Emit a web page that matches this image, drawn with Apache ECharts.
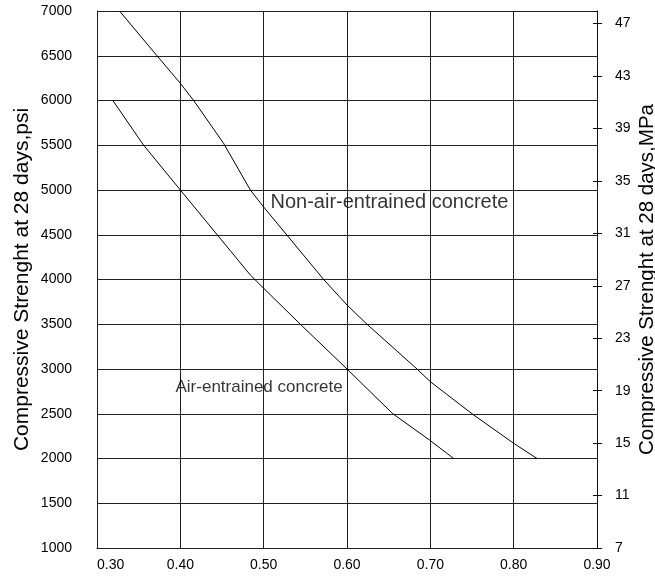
<!DOCTYPE html>
<html>
<head>
<meta charset="utf-8">
<script src="https://cdn.jsdelivr.net/npm/echarts@6/dist/echarts.min.js"></script>
<style>
html,body{margin:0;padding:0;background:#fff;overflow:hidden;width:655px;height:579px;}
#chart{display:block;width:655px;height:579px;}
</style>
</head>
<body>
<div id="chart"></div>
<script>
// Water-cement ratio vs. compressive strength (psi)
var nonAirWC  = [0.327, 0.372, 0.400, 0.416, 0.452, 0.484, 0.500, 0.572, 0.600, 0.624, 0.684, 0.700, 0.750, 0.800, 0.828];
var nonAirPsi = [7000, 6500, 6192, 6000, 5520, 5000, 4810, 4000, 3715, 3500, 3000, 2858, 2500, 2170, 2000];
var airWC     = [0.319, 0.356, 0.400, 0.484, 0.500, 0.544, 0.600, 0.655, 0.700, 0.728];
var airPsi    = [6000, 5500, 5000, 4050, 3902, 3500, 3000, 2500, 2200, 2000];

var xTicks = [0.30, 0.40, 0.50, 0.60, 0.70, 0.80, 0.90];
var psiTicks = [1000, 1500, 2000, 2500, 3000, 3500, 4000, 4500, 5000, 5500, 6000, 6500, 7000];
var mpaTicks = [7, 11, 15, 19, 23, 27, 31, 35, 39, 43, 47];

var labelNames = ['Non-air-entrained concrete', 'Air-entrained concrete'];
var labelWC    = [0.5076, 0.3936];
var labelPsi   = [4855, 2800];
var labelSizes = [20, 17];

var PSI_PER_MPA = 145.04;
var FONT = '"Liberation Sans", Arial, sans-serif';

function pairs(xs, ys){ return xs.map(function(x,i){ return [x, ys[i]]; }); }

var psiMin = psiTicks[0], psiMax = psiTicks[psiTicks.length-1];
var mpaMin = mpaTicks[0];
var mpaMax = mpaMin + (psiMax - psiMin) / PSI_PER_MPA * 0.99;

var chart = echarts.init(document.getElementById('chart'), null, {renderer:'canvas', width:655, height:579});
chart.setOption({
  animation:false,
  backgroundColor:'#fff',
  textStyle:{fontFamily:FONT},
  grid:{left:97, right:58, top:11, bottom:31, containLabel:false, outerBoundsMode:'none'},
  xAxis:{
    type:'value', min:xTicks[0], max:xTicks[xTicks.length-1], interval:0.1,
    axisLine:{show:true, lineStyle:{color:'#222', width:1}},
    axisTick:{show:false},
    splitLine:{show:true, lineStyle:{color:'#222', width:1}},
    axisLabel:{color:'#000', fontSize:14, fontFamily:FONT, margin:10, alignMinLabel:'left',
      formatter:function(v){ return v.toFixed(2); }}
  },
  yAxis:[{
    type:'value', position:'left', min:psiMin, max:psiMax, interval:500,
    name:'Compressive Strenght at 28 days,psi', nameLocation:'middle', nameRotate:90, nameGap:64,
    nameMoveOverlap:false,
    nameTextStyle:{fontSize:21, color:'#000', fontFamily:FONT},
    axisLine:{show:true, lineStyle:{color:'#222', width:1}},
    axisTick:{show:false},
    splitLine:{show:true, lineStyle:{color:'#222', width:1}},
    axisLabel:{color:'#000', fontSize:14, fontFamily:FONT, margin:25,
      formatter:function(v){ return String(v); }}
  },{
    type:'value', position:'right', min:mpaMin, max:mpaMax, interval:4,
    name:'Compressive Strenght at 28 days,MPa', nameLocation:'middle', nameRotate:90, nameGap:40,
    nameMoveOverlap:false,
    nameTextStyle:{fontSize:20.5, color:'#000', fontFamily:FONT},
    axisLine:{show:true, lineStyle:{color:'#111', width:1}},
    axisTick:{show:true, inside:false, length:5, lineStyle:{color:'#111'}},
    splitLine:{show:false},
    axisLabel:{color:'#000', fontSize:14, fontFamily:FONT, margin:18, showMaxLabel:false,
      formatter:function(v){ return String(v); }}
  },{
    type:'value', position:'right', min:mpaMin, max:mpaMax, interval:4,
    axisLine:{show:false},
    axisTick:{show:true, inside:true, length:4, lineStyle:{color:'#111'}},
    splitLine:{show:false},
    axisLabel:{show:false}
  }],
  series:[{
    type:'line', name:'Non-air-entrained concrete', yAxisIndex:0,
    data:pairs(nonAirWC, nonAirPsi), showSymbol:false, smooth:false,
    lineStyle:{color:'#000', width:1}
  },{
    type:'line', name:'Air-entrained concrete', yAxisIndex:0,
    data:pairs(airWC, airPsi), showSymbol:false, smooth:false,
    lineStyle:{color:'#000', width:1}
  },{
    type:'scatter', yAxisIndex:0, symbolSize:1, itemStyle:{color:'rgba(0,0,0,0)'},
    data:labelNames.map(function(n,i){
      return {name:n, value:[labelWC[i], labelPsi[i]], label:{fontSize:labelSizes[i]}};
    }),
    label:{show:true, position:'right', distance:0, formatter:'{b}', fontSize:20, color:'#000', fontFamily:FONT}
  }]
});
</script>
</body>
</html>
